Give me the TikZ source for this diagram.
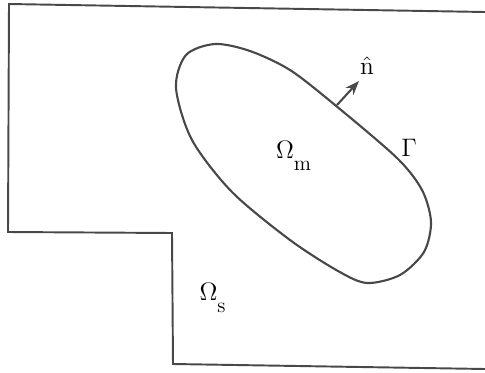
\documentclass[tikz,border=0pt]{standalone}
\usepackage{tikz}
\usetikzlibrary{arrows.meta}
\definecolor{InkGray}{RGB}{72,72,72}
\tikzset{
  border/.style={draw=InkGray,line width=1.1pt,line join=miter},
  interface/.style={draw=InkGray,line width=1.2pt},
  normal/.style={-{Stealth[length=8pt,width=6pt]},line width=1.2pt,InkGray},
  region/.style={font=\Large,text=black,inner sep=1pt}
}
\newcommand{\lowsub}[1]{\lower0.8ex\hbox{\large #1}}

\begin{document}
\begin{tikzpicture}[x=0.02cm,y=-0.02cm]
      \useasboundingbox (0,0) rectangle (485,373);
      % outer domain, open on the right
      \draw[border] (485,12) -- (9,4) -- (8,232) -- (172,233)
        -- (173,364) -- (485,369);
      % inclusion boundary
      \draw[interface]
        plot[smooth cycle] coordinates {(176,88) (186,55) (215,44) (250,51)
          (290,70) (335,105) (397,158) (422,190) (431,222) (424,252)
          (400,275) (367,283) (338,271) (290,240) (232,192) (192,140)};
      \coordinate (nbase) at (337,105);
      \coordinate (ntip) at (359,81);
      \draw[normal] (nbase) -- (ntip);
      \node[region] (nhat) at (367,66) {$\hat{\mathrm{n}}$};
      \node[region] (gamma) at (409,148) {$\Gamma$};
      \node[region] (omegam) at (294,156) {$\Omega_{\lowsub{m}}$};
      \node[region] (omegas) at (213,298) {$\Omega_{\lowsub{s}}$};
    \end{tikzpicture}
\end{document}
